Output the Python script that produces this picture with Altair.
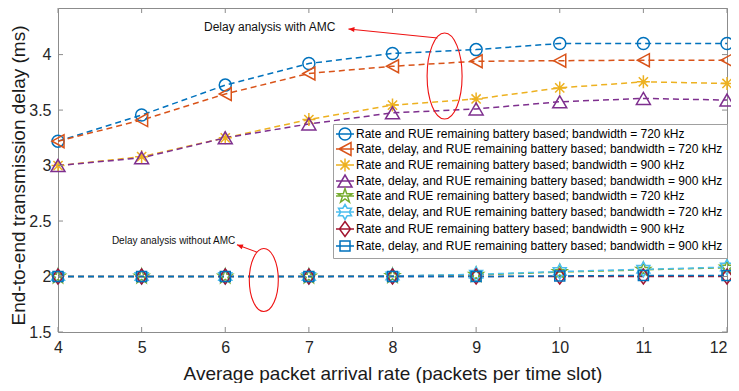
import math
import altair as alt
import pandas as pd

# ---------------- data ----------------
x_vals = [4, 5, 6, 7, 8, 9, 10, 11, 12]
rate_720_amc = [3.22, 3.455, 3.725, 3.92, 4.01, 4.045, 4.10, 4.10, 4.10]
rdr_720_amc = [3.22, 3.41, 3.645, 3.83, 3.895, 3.94, 3.945, 3.95, 3.95]
rate_900_amc = [3.00, 3.08, 3.25, 3.415, 3.545, 3.60, 3.70, 3.755, 3.74]
rdr_900_amc = [3.00, 3.07, 3.25, 3.375, 3.475, 3.51, 3.575, 3.605, 3.59]
rate_720_noamc = [2.0, 2.0, 2.0, 2.0, 2.005, 2.015, 2.04, 2.06, 2.08]
rdr_720_noamc = [2.0, 2.0, 2.0, 2.0, 2.005, 2.02, 2.045, 2.065, 2.085]
rate_900_noamc = [2.0, 2.0, 2.0, 2.0, 2.0, 2.0, 2.0, 2.0, 2.0]
rdr_900_noamc = [2.0, 2.0, 2.0, 2.0, 2.0, 2.0, 2.005, 2.01, 2.01]

series_keys = ["a", "b", "c", "d", "e", "f", "g", "h"]
series_labels = [
    "Rate and RUE remaining battery based; bandwidth = 720 kHz",
    "Rate, delay, and RUE remaining battery based; bandwidth = 720 kHz",
    "Rate and RUE remaining battery based; bandwidth = 900 kHz",
    "Rate, delay, and RUE remaining battery based; bandwidth = 900 kHz",
    "Rate and RUE remaining battery based; bandwidth = 720 kHz",
    "Rate, delay, and RUE remaining battery based; bandwidth = 720 kHz",
    "Rate and RUE remaining battery based; bandwidth = 900 kHz",
    "Rate, delay, and RUE remaining battery based; bandwidth = 900 kHz",
]
series_values = [rate_720_amc, rdr_720_amc, rate_900_amc, rdr_900_amc,
                 rate_720_noamc, rdr_720_noamc, rate_900_noamc, rdr_900_noamc]

x_ticks = [4, 5, 6, 7, 8, 9, 10, 11, 12]
y_ticks = [1.5, 2.0, 2.5, 3.0, 3.5, 4.0]

x_title = "Average packet arrival rate (packets per time slot)"
y_title = "End-to-end transmission delay (ms)"

annot_text = ["Delay analysis with AMC", "Delay analysis without AMC"]
annot_text_x = [7.317, 6.12]
annot_text_y = [4.249, 2.316]
arrow_x = [8.539, 6.38]
arrow_y = [4.150, 2.2195]
arrow_x2 = [7.473, 6.14]
arrow_y2 = [4.231, 2.286]
ellipse_x = [8.623, 6.461]
ellipse_y = [3.807, 1.968]

# ---------------- styles ----------------
colors = ["#0072BD", "#D95319", "#EDB120", "#7E2F8E",
          "#77AC30", "#4DBEEE", "#A2142F", "#0072BD"]


def star_path(n, R, r):
    pts = []
    for k in range(2 * n):
        ang = math.radians(-90 + k * 180.0 / n)
        rad = R if k % 2 == 0 else r
        pts.append((rad * math.cos(ang), rad * math.sin(ang)))
    return "M" + "L".join(f"{px:.2f},{py:.2f}" for px, py in pts) + "Z"


markers = [
    "M6,0A6,6 0 1,1 -6,0A6,6 0 1,1 6,0Z",
    "M-6,0L6,-6.5L6,6.5Z",
    "M-6.5,0L6.5,0M0,-6.5L0,6.5M-4.6,-4.6L4.6,4.6M-4.6,4.6L4.6,-4.6",
    "M0,-6L7,6L-7,6Z",
    star_path(5, 7.5, 7.5 * 0.382),
    star_path(6, 7.5, 7.5 / math.sqrt(3)),
    "M0,-7.5L5.5,0L0,7.5L-5.5,0Z",
    "M-5,-5L5,-5L5,5L-5,5Z",
]
legend_markers = [m + "M-9,0L9,0" for m in markers]

rows = []
for key, vals in zip(series_keys, series_values):
    for xv, yv in zip(x_vals, vals):
        rows.append({"series": key, "x": xv, "y": yv})
df = pd.DataFrame(rows)

W, H = 669, 324
FONT = "Liberation Sans"
BORDER = "#8c8c8c"

xs = alt.Scale(domain=[4, 12], nice=False, zero=False)
ys = alt.Scale(domain=[1.5, 4.42], nice=False, zero=False)

X = alt.X("x:Q", scale=xs, axis=alt.Axis(
    values=x_ticks, format="d", title=x_title, grid=False, ticks=False, tickSize=0,
    domain=False, labelFlush=False,
    labelAlign={"condition": {"test": "datum.value == 12", "value": "right"},
                "value": "center"},
    labelFont=FONT, labelFontSize=16,
    labelColor="#262626", labelPadding=7, titleFont=FONT, titleFontSize=19,
    titleFontWeight="normal", titleColor="#1a1a1a", titleY=47,
    titleBaseline="alphabetic"))
Y = alt.Y("y:Q", scale=ys, axis=alt.Axis(
    values=y_ticks, format="~g", title=y_title, grid=False, ticks=False, tickSize=0,
    domain=False, labelFlush=False, labelFont=FONT, labelFontSize=16,
    labelColor="#262626", labelPadding=7, titleFont=FONT, titleFontSize=19,
    titleFontWeight="normal", titleColor="#1a1a1a", titleX=-34, titleY=167,
    titleBaseline="alphabetic"))

cscale = alt.Scale(domain=series_keys, range=colors)
label_expr = ("[" + ",".join(f"'{s}'" for s in series_labels) + "][indexof(["
              + ",".join(f"'{k}'" for k in series_keys) + "], datum.value)]")

leg = alt.Legend(title=None, orient="none", legendX=275, legendY=116,
                 labelExpr=label_expr, labelFont=FONT, labelFontSize=12,
                 labelColor="#000000", labelLimit=0, symbolSize=4,
                 symbolStrokeWidth=1.5, padding=4, rowPadding=-6,
                 strokeColor="#a0a0a0", fillColor="white",
                 symbolOffset=2, labelOffset=5)

base = alt.Chart(df)

lines = base.mark_line(strokeDash=[6, 4], strokeWidth=1.5).encode(
    x=X, y=Y, color=alt.Color("series:N", scale=cscale, legend=None),
    order="x:Q")

points = base.mark_point(filled=False, strokeWidth=1.5, size=4, opacity=1).encode(
    x=X, y=Y,
    color=alt.Color("series:N", scale=cscale, legend=None),
    shape=alt.Shape("series:N", scale=alt.Scale(domain=series_keys, range=markers),
                    legend=None))

legend_layer = base.mark_point(filled=False, strokeWidth=1.5, size=4, opacity=1,
                               clip=True).encode(
    x=X, y=alt.value(-3000),
    color=alt.Color("series:N", scale=cscale, legend=leg),
    shape=alt.Shape("series:N", scale=alt.Scale(domain=series_keys, range=legend_markers),
                    legend=leg))

# inward ticks
xt = pd.DataFrame({"x": x_ticks})
yt = pd.DataFrame({"y": y_ticks})
tick_b = alt.Chart(xt).mark_rule(color=BORDER, strokeWidth=1).encode(
    x=X, y=alt.value(H), y2=alt.value(H - 5))
tick_t = alt.Chart(xt).mark_rule(color=BORDER, strokeWidth=1).encode(
    x=X, y=alt.value(0), y2=alt.value(5))
tick_l = alt.Chart(yt).mark_rule(color=BORDER, strokeWidth=1).encode(
    y=Y, x=alt.value(0), x2=alt.value(5))
tick_r = alt.Chart(yt).mark_rule(color=BORDER, strokeWidth=1).encode(
    y=Y, x=alt.value(W - 5), x2=alt.value(W))

# annotations
ell_df = pd.DataFrame({"x": ellipse_x, "y": ellipse_y, "k": ["up", "low"]})
ellipses = alt.Chart(ell_df).mark_point(filled=False, color="#ee1111", strokeWidth=1.1,
                                        size=4, opacity=1).encode(
    x=X, y=Y,
    shape=alt.Shape("k:N", scale=alt.Scale(
        domain=["up", "low"],
        range=["M0,-43A17.5,43 0 1,1 0,43A17.5,43 0 1,1 0,-43Z",
               "M0,-31.5A14.5,31.5 0 1,1 0,31.5A14.5,31.5 0 1,1 0,-31.5Z"]),
        legend=None))

arr_df = pd.DataFrame({"x": arrow_x, "y": arrow_y, "x2": arrow_x2, "y2": arrow_y2})
arrow_lines = alt.Chart(arr_df).mark_rule(color="#ee1111", strokeWidth=1.1).encode(
    x=X, y=Y, x2="x2:Q", y2="y2:Q")
head_df = pd.DataFrame({"x": arrow_x2, "y": arrow_y2, "ang": [185.8, 200.3]})
arrow_heads = alt.Chart(head_df).mark_point(
    filled=True, color="#ee1111", size=4, opacity=1,
    shape="M0,0L-6,-2.5L-6,2.5Z").encode(
    x=X, y=Y, angle=alt.Angle("ang:Q", scale=None))

txt_df = pd.DataFrame({"x": annot_text_x, "y": annot_text_y, "t": annot_text,
                       "fs": [12, 10]})
texts = alt.Chart(txt_df).mark_text(align="right", baseline="middle", font=FONT,
                                    color="#111111").encode(
    x=X, y=Y, text="t:N", size=alt.Size("fs:Q", scale=None))

chart = alt.layer(
    lines, points, legend_layer, tick_b, tick_t, tick_l, tick_r,
    ellipses, arrow_lines, arrow_heads, texts
).resolve_scale(shape="independent", color="independent").properties(
    width=W, height=H,
    autosize=alt.AutoSizeParams(type="none"),
    padding={"left": 50, "top": 0, "right": 4, "bottom": 51},
).configure_view(stroke=BORDER, strokeWidth=1)

chart.save("out.html", embed_options={"renderer": "svg", "actions": False})
